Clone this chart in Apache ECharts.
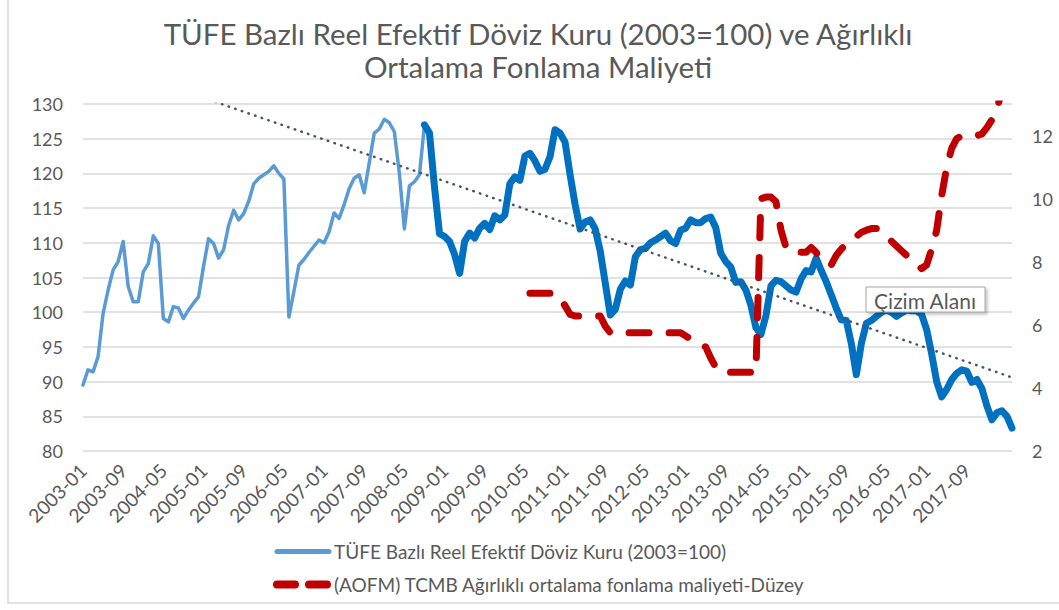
<!DOCTYPE html>
<html><head><meta charset="utf-8">
<script src="https://cdn.jsdelivr.net/npm/echarts@6/dist/echarts.min.js"></script>
<style>html,body{margin:0;padding:0;background:#fff}#c{width:1059px;height:610px}</style>
</head><body><div id="c"></div>
<script>
const months = [
'2003-01','2003-02','2003-03','2003-04','2003-05','2003-06','2003-07','2003-08','2003-09','2003-10','2003-11','2003-12',
'2004-01','2004-02','2004-03','2004-04','2004-05','2004-06','2004-07','2004-08','2004-09','2004-10','2004-11','2004-12',
'2005-01','2005-02','2005-03','2005-04','2005-05','2005-06','2005-07','2005-08','2005-09','2005-10','2005-11','2005-12',
'2006-01','2006-02','2006-03','2006-04','2006-05','2006-06','2006-07','2006-08','2006-09','2006-10','2006-11','2006-12',
'2007-01','2007-02','2007-03','2007-04','2007-05','2007-06','2007-07','2007-08','2007-09','2007-10','2007-11','2007-12',
'2008-01','2008-02','2008-03','2008-04','2008-05','2008-06','2008-07','2008-08','2008-09','2008-10','2008-11','2008-12',
'2009-01','2009-02','2009-03','2009-04','2009-05','2009-06','2009-07','2009-08','2009-09','2009-10','2009-11','2009-12',
'2010-01','2010-02','2010-03','2010-04','2010-05','2010-06','2010-07','2010-08','2010-09','2010-10','2010-11','2010-12',
'2011-01','2011-02','2011-03','2011-04','2011-05','2011-06','2011-07','2011-08','2011-09','2011-10','2011-11','2011-12',
'2012-01','2012-02','2012-03','2012-04','2012-05','2012-06','2012-07','2012-08','2012-09','2012-10','2012-11','2012-12',
'2013-01','2013-02','2013-03','2013-04','2013-05','2013-06','2013-07','2013-08','2013-09','2013-10','2013-11','2013-12',
'2014-01','2014-02','2014-03','2014-04','2014-05','2014-06','2014-07','2014-08','2014-09','2014-10','2014-11','2014-12',
'2015-01','2015-02','2015-03','2015-04','2015-05','2015-06','2015-07','2015-08','2015-09','2015-10','2015-11','2015-12',
'2016-01','2016-02','2016-03','2016-04','2016-05','2016-06','2016-07','2016-08','2016-09','2016-10','2016-11','2016-12',
'2017-01','2017-02','2017-03','2017-04','2017-05','2017-06','2017-07','2017-08','2017-09','2017-10','2017-11','2017-12',
'2018-01','2018-02','2018-03','2018-04','2018-05','2018-06'
];
const tickLabels = ['2003-01','2003-09','2004-05','2005-01','2005-09','2006-05','2007-01','2007-09','2008-05','2009-01','2009-09','2010-05','2011-01','2011-09','2012-05','2013-01','2013-09','2014-05','2015-01','2015-09','2016-05','2017-01','2017-09'];
const reer = [
89.5,91.7,91.4,93.6,99.8,103.2,106.1,107.3,110.2,103.7,101.5,101.5,
105.8,107.0,111.0,109.9,99.1,98.6,100.8,100.6,99.1,100.3,101.3,102.2,
106.6,110.6,109.9,107.8,109.0,112.5,114.7,113.3,114.2,116.0,118.5,119.3,
119.8,120.3,121.1,120.0,119.2,99.3,103.0,106.8,107.6,108.6,109.5,110.4,
110.0,111.6,114.3,113.5,115.5,117.8,119.3,119.8,117.2,121.5,125.8,126.4,
127.8,127.3,126.0,120.0,112.0,118.2,118.8,119.8,127.0,125.8,118.0,111.3,
110.9,110.2,108.3,105.6,110.2,111.4,110.7,112.1,112.8,111.9,113.9,113.3,
114.0,118.5,119.5,119.0,122.5,122.9,121.8,120.3,120.6,122.4,126.3,125.8,
124.5,119.8,115.5,112.0,113.0,113.3,112.0,108.8,104.2,99.6,100.4,103.3,
104.5,103.9,108.0,109.0,109.2,110.0,110.4,110.9,111.4,110.3,109.9,111.8,
112.1,113.3,112.9,112.9,113.5,113.7,112.2,108.5,107.3,106.5,104.3,104.4,
103.2,101.0,97.8,96.8,99.5,103.8,104.6,104.4,103.8,103.2,102.9,104.8,
106.0,105.8,107.8,106.0,104.4,102.5,100.6,98.9,98.8,95.5,91.0,95.5,
98.4,98.8,99.4,100.0,100.3,100.0,99.4,99.9,100.3,100.2,100.2,99.7,
97.5,94.0,90.0,87.8,88.9,90.3,91.2,91.7,91.5,89.9,90.3,89.0,
86.5,84.5,85.5,85.8,85.0,83.3
];
const aofm = [
null,null,null,null,null,null,null,null,null,null,null,null,
null,null,null,null,null,null,null,null,null,null,null,null,
null,null,null,null,null,null,null,null,null,null,null,null,
null,null,null,null,null,null,null,null,null,null,null,null,
null,null,null,null,null,null,null,null,null,null,null,null,
null,null,null,null,null,null,null,null,null,null,null,null,
null,null,null,null,null,null,null,null,null,null,null,null,
null,null,null,null,null,7.0,7.0,7.0,7.0,7.0,7.0,6.85,
6.6,6.33,6.28,6.28,6.28,6.28,6.28,6.28,5.96,5.75,5.75,5.75,
5.75,5.75,5.75,5.75,5.75,5.75,5.75,5.75,5.75,5.75,5.75,5.75,
5.65,5.55,5.45,5.35,5.3,4.95,4.65,4.5,4.5,4.5,4.5,4.5,
4.5,4.5,4.5,10.0,10.05,10.05,9.9,9.0,8.45,8.3,8.3,8.3,
8.3,8.45,8.3,8.05,7.95,7.9,8.2,8.4,8.55,8.65,8.8,8.93,
9.0,9.05,9.05,8.95,8.85,8.65,8.5,8.35,8.2,8.05,7.9,7.78,
7.9,8.4,9.0,10.1,11.0,11.6,11.9,12.0,12.0,12.0,12.0,12.05,
12.25,12.5,12.8,13.5,14.0,16.5
];
const splitMonth = '2008-09';
const trendStart = 136.9;
const trendEnd = 90.6;

const nameReer = 'TÜFE Bazlı Reel Efektif Döviz Kuru (2003=100)';
const nameAofm = '(AOFM) TCMB Ağırlıklı ortalama fonlama maliyeti-Düzey';
const FONT = 'Lato, "Open Sans", sans-serif';
const GREY = '#595959';

const splitIdx = months.indexOf(splitMonth);
const thin = reer.map((v, i) => i <= splitIdx ? v : null);
const thick = reer.map((v, i) => i >= splitIdx ? v : null);

const chart = echarts.init(document.getElementById('c'), null, {renderer: 'svg'});
chart.setOption({
  backgroundColor: '#fff',
  animation: false,
  textStyle: {fontFamily: FONT},
  grid: {left: 83, right: 47, top: 104, bottom: 159, outerBoundsMode: 'none', containLabel: false},
  legend: {
    data: [
      {name: nameReer, lineStyle: {width: 5, color: '#5B9BD5', cap: 'round'}},
      {name: nameAofm, lineStyle: {width: 8, color: '#C00000', type: [18, 14], cap: 'round'}}
    ],
    orient: 'vertical', left: 268, top: 537,
    itemWidth: 52, itemHeight: 14, itemGap: 14,
    itemStyle: {color: 'rgba(0,0,0,0)', borderWidth: 0, opacity: 0},
    textStyle: {fontSize: 19, color: GREY, fontFamily: FONT}
  },
  xAxis: {
    type: 'category', data: months, boundaryGap: false,
    axisLine: {show: false}, axisTick: {show: false},
    axisLabel: {
      rotate: 45, fontSize: 19, color: GREY, margin: 16, fontFamily: FONT,
      interval: (i, v) => tickLabels.indexOf(v) >= 0
    },
    splitLine: {show: false}
  },
  yAxis: [
    {type: 'value', min: 80, max: 130, interval: 5,
     axisLine: {show: false}, axisTick: {show: false},
     axisLabel: {fontSize: 18, color: GREY, margin: 20, fontFamily: FONT},
     splitLine: {lineStyle: {color: '#D9D9D9', width: 1.5}}},
    {type: 'value', min: 2, max: 13, interval: 2, position: 'right',
     axisLine: {show: false}, axisTick: {show: false},
     axisLabel: {fontSize: 18, color: GREY, margin: 20, showMaxLabel: false, fontFamily: FONT},
     splitLine: {show: false}}
  ],
  series: [
    {name: nameReer, type: 'line', data: thin, yAxisIndex: 0, symbol: 'none', connectNulls: false,
     itemStyle: {color: '#5B9BD5'},
     lineStyle: {color: '#5B9BD5', width: 3.5, cap: 'round', join: 'round'}, z: 2},
    {name: nameReer, type: 'line', data: thick, yAxisIndex: 0, symbol: 'none', connectNulls: false,
     itemStyle: {color: '#0070C0'},
     lineStyle: {color: '#0070C0', width: 7, cap: 'round', join: 'round'}, z: 3},
    {name: nameAofm, type: 'line', data: aofm, yAxisIndex: 1, symbol: 'none', connectNulls: false,
     itemStyle: {color: '#C00000'},
     lineStyle: {color: '#C00000', width: 7, type: [20, 20], cap: 'round', join: 'round'}, z: 4},
    {name: 'Trend', type: 'line', yAxisIndex: 0, symbol: 'none',
     data: [[months[0], trendStart], [months[months.length - 1], trendEnd]],
     itemStyle: {color: '#44546A'},
     lineStyle: {color: '#44546A', width: 2.5, type: [0.5, 6.5], cap: 'round'}, z: 5}
  ],
  graphic: [
    {type: 'rect', shape: {x: 8, y: -5, width: 1060, height: 608}, style: {fill: 'none', stroke: '#D9D9D9', lineWidth: 1.5}, silent: true},
    {type: 'text', x: 538, y: 33, style: {text: 'TÜFE Bazlı Reel Efektif Döviz Kuru (2003=100) ve Ağırlıklı', font: '29.5px ' + FONT, fill: GREY, align: 'center', verticalAlign: 'middle'}},
    {type: 'text', x: 538, y: 66, style: {text: 'Ortalama Fonlama Maliyeti', font: '29.5px ' + FONT, fill: GREY, align: 'center', verticalAlign: 'middle'}},
    {type: 'rect', z: 100, shape: {x: 866, y: 287, width: 119, height: 25}, style: {fill: '#fff', stroke: '#A6A6A6', lineWidth: 1, shadowBlur: 3, shadowOffsetX: 2, shadowOffsetY: 2, shadowColor: 'rgba(0,0,0,0.25)'}},
    {type: 'text', z: 101, x: 925, y: 300, style: {text: 'Çizim Alanı', font: '21px ' + FONT, fill: GREY, align: 'center', verticalAlign: 'middle'}}
  ]
});
</script>
</body></html>
